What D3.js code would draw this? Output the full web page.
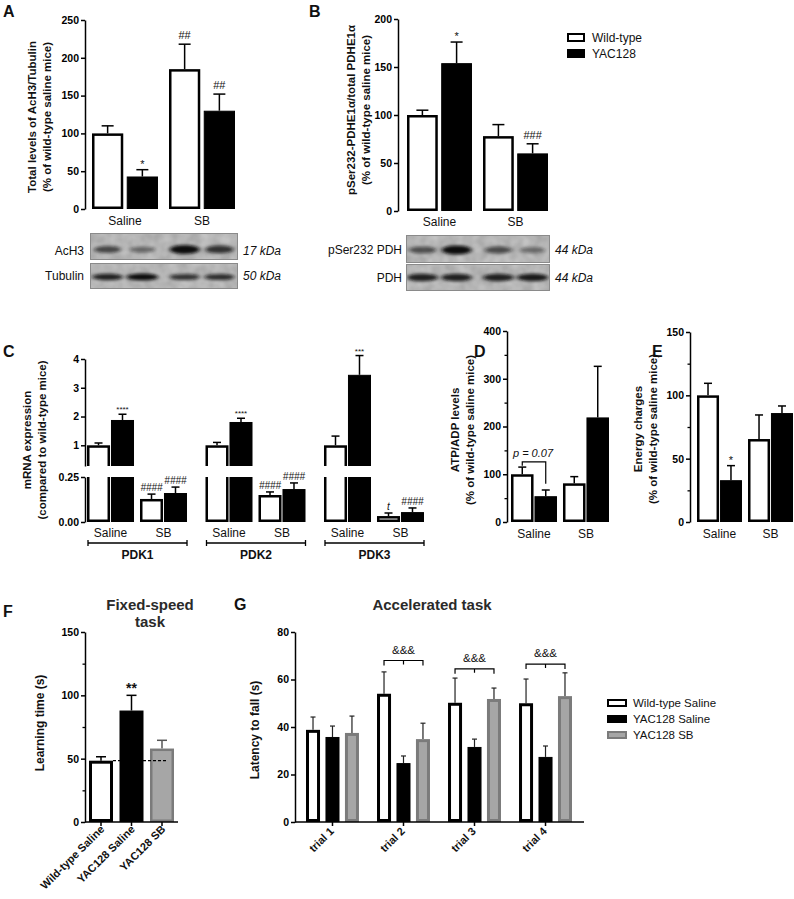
<!DOCTYPE html>
<html><head><meta charset="utf-8">
<script src="https://cdn.jsdelivr.net/npm/d3@7"></script>
<style>
body{margin:0;background:#fff;}
svg{display:block;font-family:"Liberation Sans",Arial,Helvetica,sans-serif;}
</style></head><body>
<svg id="fig" width="794" height="899"></svg>
<script>
// ================= DATA =================
const treatments = ["Saline", "SB"];
const genotypes = ["Wild-type", "YAC128"];

// Panel A : Total AcH3/Tubulin (% of WT saline)
const aWtMean = [100, 185];
const aWtSem = [10, 33];
const aYacMean = [43, 130];
const aYacSem = [9, 22];
const aWtSig = ["", "##"];
const aYacSig = ["*", "##"];
const aTicks = [0, 50, 100, 150, 200, 250];

// Panel B : pSer232-PDHE1a / total PDHE1a
const bWtMean = [100, 78];
const bWtSem = [5, 12];
const bYacMean = [154, 60];
const bYacSem = [22, 10];
const bWtSig = ["", ""];
const bYacSig = ["*", "###"];
const bTicks = [0, 50, 100, 150, 200];

// Western blot band intensities (lanes: WT sal, YAC sal, WT SB, YAC SB)
const blotAcH3 = [0.55, 0.3, 1.0, 0.7];
const blotTubulin = [0.85, 1.0, 0.7, 0.75];
const blotPSer = [0.5, 1.0, 0.5, 0.25];
const blotPDH = [0.85, 0.85, 0.85, 0.9];

// Panel C : mRNA expression
const genes = ["PDK1", "PDK2", "PDK3"];
const cWtSalMean = [1.0, 1.0, 1.0];
const cWtSalSem = [0.08, 0.1, 0.32];
const cYacSalMean = [1.88, 1.81, 3.45];
const cYacSalSem = [0.2, 0.13, 0.67];
const cWtSbMean = [0.128, 0.15, 0.033];
const cWtSbSem = [0.027, 0.017, 0.017];
const cYacSbMean = [0.161, 0.183, 0.055];
const cYacSbSem = [0.033, 0.034, 0.023];
const cYacSalSig = ["****", "****", "***"];
const cWtSbSig = ["####", "####", "t"];
const cYacSbSig = ["####", "####", "####"];
const cTicksTop = [1, 2, 3, 4];
const cTicksBot = [0, 0.25];

// Panel D : ATP/ADP
const dWtMean = [100, 81];
const dWtSem = [15, 14];
const dYacMean = [54, 219];
const dYacSem = [13, 107];
const dWtSig = ["", ""];
const dYacSig = ["", ""];
const dTicks = [0, 100, 200, 300, 400];
const dMinor = [50, 150, 250, 350];
const dPText = "p = 0.07";
const dBracket = [118, 126, 80]; // left end, bar level, right end (data units)

// Panel E : Energy charges
const eWtMean = [100, 65.5];
const eWtSem = [9.5, 19];
const eYacMean = [33, 86];
const eYacSem = [11.5, 5.6];
const eWtSig = ["", ""];
const eYacSig = ["*", ""];
const eTicks = [0, 50, 100, 150];
const eMinor = [25, 75, 125];

// Panel F : Fixed-speed task
const fGroups = ["Wild-type Saline", "YAC128 Saline", "YAC128 SB"];
const fMean = [48.4, 88, 58];
const fSem = [3.1, 12, 6.5];
const fSig = ["", "**", ""];
const fTicks = [0, 50, 100, 150];
const fMinor = [25, 75, 125];

// Panel G : Accelerated task
const trials = ["trial 1", "trial 2", "trial 3", "trial 4"];
const gSeries = ["Wild-type Saline", "YAC128 Saline", "YAC128 SB"];
const gWtMean = [38.8, 54, 50.2, 50];
const gWtSem = [5.4, 9.2, 10.4, 10.2];
const gYacSalMean = [35.8, 24.8, 31.6, 27.4];
const gYacSalSem = [4.6, 3.0, 3.3, 4.6];
const gYacSbMean = [37.5, 34.9, 51.8, 53];
const gYacSbSem = [7.1, 6.7, 4.6, 9.8];
const gBracketSig = ["", "&&&", "&&&", "&&&"];
const gBracketLevel = [null, 68, 64.5, 66.5];
const gTicks = [0, 20, 40, 60, 80];

// ================= STYLES =================
const FONT = '"Liberation Sans", Arial, Helvetica, sans-serif';
const ST_WT = {fill: "#fff", stroke: "#000", sw: 2.5};
const ST_YAC = {fill: "#000", stroke: "#000", sw: 1};
const ST_SB = {fill: "#a6a6a6", stroke: "#7b7b7b", sw: 2.5};

const svg = d3.select("#fig");
const defs = svg.append("defs");

// filters
const blur = defs.append("filter").attr("id", "bandBlur").attr("x", "-50%").attr("y", "-100%").attr("width", "200%").attr("height", "300%");
blur.append("feGaussianBlur").attr("stdDeviation", "2.2 1.6");
const noise = defs.append("filter").attr("id", "noise").attr("x", 0).attr("y", 0).attr("width", "100%").attr("height", "100%");
noise.append("feTurbulence").attr("type", "fractalNoise").attr("baseFrequency", "0.09").attr("numOctaves", 2).attr("seed", 4).attr("result", "t");
noise.append("feColorMatrix").attr("in", "t").attr("type", "matrix").attr("values", "0 0 0 0 0  0 0 0 0 0  0 0 0 0 0  0 0 0 0.35 0").attr("result", "n");
noise.append("feComposite").attr("in", "n").attr("in2", "SourceGraphic").attr("operator", "in");

// ================= HELPERS =================
function panelLetter(x, y, t) {
  svg.append("text").attr("x", x).attr("y", y).text(t)
    .attr("font-size", 16).attr("font-weight", "bold").attr("fill", "#111");
}
function yAxis(x, scale, ticks, fmt, minor) {
  const ax = svg.append("g").attr("transform", `translate(${x},0)`)
    .call(d3.axisLeft(scale).tickValues(ticks).tickSize(4).tickSizeOuter(0).tickPadding(2)
      .tickFormat(fmt || d3.format("d")));
  ax.attr("font-family", FONT).attr("font-size", 10.5).attr("font-weight", "bold");
  ax.select(".domain").attr("stroke", "#000").attr("stroke-width", 1.5);
  ax.selectAll(".tick line").attr("stroke", "#000").attr("stroke-width", 1.5);
  ax.selectAll(".tick text").attr("fill", "#000");
  if (minor) {
    const mx = svg.append("g").attr("transform", `translate(${x},0)`)
      .call(d3.axisLeft(scale).tickValues(minor).tickSize(2.5).tickSizeOuter(0).tickFormat(""));
    mx.select(".domain").remove();
    mx.selectAll(".tick line").attr("stroke", "#000").attr("stroke-width", 1.3);
  }
  return ax;
}
function yLabel(xs, y, lines, size) {
  lines.forEach((l, i) => {
    svg.append("text").attr("transform", `translate(${xs[i]},${y}) rotate(-90)`)
      .attr("text-anchor", "middle").attr("dy", "0.35em")
      .attr("font-size", size || 11.5).attr("font-weight", "bold").attr("fill", "#111").text(l);
  });
}
function drawBar(g, x, w, y0, yT, st, clip) {
  const sw = st.sw;
  const r = g.append("rect")
    .attr("x", x + sw / 2).attr("y", yT + sw / 2)
    .attr("width", Math.max(0, w - sw)).attr("height", Math.max(0, y0 - yT - sw))
    .attr("fill", st.fill).attr("stroke", st.stroke).attr("stroke-width", sw);
  if (clip) r.attr("clip-path", `url(#${clip})`);
}
function drawErr(g, cx, yM, yE, cap, sw, color) {
  const c = color || "#000";
  g.append("line").attr("x1", cx).attr("x2", cx).attr("y1", yM).attr("y2", yE)
    .attr("stroke", c).attr("stroke-width", sw);
  g.append("line").attr("x1", cx - cap / 2).attr("x2", cx + cap / 2).attr("y1", yE).attr("y2", yE)
    .attr("stroke", c).attr("stroke-width", sw);
}
function sigText(g, cx, yE, txt, size, opts) {
  if (!txt) return;
  opts = opts || {};
  const star = txt.indexOf("*") >= 0;
  g.append("text").attr("x", cx).attr("y", yE - (star ? (opts.starOff || 1) : (opts.off || 4)))
    .attr("text-anchor", "middle").attr("font-size", size)
    .attr("font-weight", opts.bold ? "bold" : "normal")
    .attr("font-style", opts.italic ? "italic" : "normal")
    .attr("fill", "#111").text(txt);
}

// Generic two-treatment x two-genotype panel
function pairPanel(cfg) {
  const g = svg.append("g");
  const x0 = d3.scaleBand().domain(treatments).range(cfg.xRange).paddingInner(cfg.inner);
  const x1 = d3.scaleBand().domain(genotypes).range([0, x0.bandwidth()]).paddingInner(cfg.barPad);
  const y = cfg.y;
  const y0 = y(0);
  const series = [
    {st: ST_WT, mean: cfg.wtMean, sem: cfg.wtSem, sig: cfg.wtSig, gt: genotypes[0]},
    {st: ST_YAC, mean: cfg.yacMean, sem: cfg.yacSem, sig: cfg.yacSig, gt: genotypes[1]}
  ];
  treatments.forEach((t, i) => {
    series.forEach(s => {
      const bx = x0(t) + x1(s.gt), bw = x1.bandwidth(), cx = bx + bw / 2;
      drawErr(g, cx, y(s.mean[i]), y(s.mean[i] + s.sem[i]), cfg.cap, 1.5);
      drawBar(g, bx, bw, y0, y(s.mean[i]), s.st);
      sigText(g, cx, y(s.mean[i] + s.sem[i]) - 1, s.sig[i], cfg.sigSize || 11);
    });
    g.append("text").attr("x", x0(t) + x0.bandwidth() / 2).attr("y", cfg.catY)
      .attr("text-anchor", "middle").attr("font-size", 12).attr("fill", "#111").text(t);
  });
  yAxis(cfg.axisX, y, cfg.ticks, null, cfg.minor);
  return {g, x0, x1};
}

function blot(box, rowY, rowH, centers, intens, bandW, bandH, bandDy, clipId) {
  defs.append("clipPath").attr("id", clipId).append("rect")
    .attr("x", box[0]).attr("y", rowY).attr("width", box[1] - box[0]).attr("height", rowH);
  svg.append("rect").attr("x", box[0]).attr("y", rowY).attr("width", box[1] - box[0]).attr("height", rowH)
    .attr("fill", "#cbcbcb");
  svg.append("rect").attr("x", box[0]).attr("y", rowY).attr("width", box[1] - box[0]).attr("height", rowH)
    .attr("fill", "#000").attr("filter", "url(#noise)").attr("opacity", 0.6);
  const gb = svg.append("g").attr("clip-path", `url(#${clipId})`);
  centers.forEach((c, i) => {
    const v = intens[i];
    gb.append("ellipse").attr("cx", c).attr("cy", rowY + rowH / 2 + bandDy)
      .attr("rx", bandW / 2 * (0.8 + 0.2 * v)).attr("ry", bandH / 2 * (0.55 + 0.45 * v))
      .attr("fill", "#0d0d0d").attr("opacity", 0.25 + 0.75 * v).attr("filter", "url(#bandBlur)");
  });
  svg.append("rect").attr("x", box[0] + 0.5).attr("y", rowY + 0.5).attr("width", box[1] - box[0] - 1).attr("height", rowH - 1)
    .attr("fill", "none").attr("stroke", "#8a8a8a").attr("stroke-width", 1);
}

// ================= PANEL A =================
panelLetter(3, 17, "A");
const yA = d3.scaleLinear().domain([0, 250]).range([209, 20]);
const pA = pairPanel({axisX: 85, y: yA, ticks: aTicks, xRange: [92, 235], inner: 0.143, barPad: 0.1,
  wtMean: aWtMean, wtSem: aWtSem, wtSig: aWtSig, yacMean: aYacMean, yacSem: aYacSem, yacSig: aYacSig,
  cap: 12, catY: 225});
yLabel([32, 47], 117, ["Total levels of AcH3/Tubulin", "(% of wild-type saline mice)"]);
{
  const centers = [];
  treatments.forEach(t => genotypes.forEach(gt => centers.push(pA.x0(t) + pA.x1(gt) + pA.x1.bandwidth() / 2)));
  blot([90, 238], 233, 27, centers, blotAcH3, 30, 9, 3, "clipA1");
  blot([90, 238], 263, 26, centers, blotTubulin, 32, 7, 1, "clipA2");
  svg.append("text").attr("x", 84).attr("y", 255).attr("text-anchor", "end").attr("font-size", 12).attr("fill", "#111").text("AcH3");
  svg.append("text").attr("x", 84).attr("y", 280).attr("text-anchor", "end").attr("font-size", 12).attr("fill", "#111").text("Tubulin");
  svg.append("text").attr("x", 243).attr("y", 255).attr("font-size", 12).attr("font-style", "italic").attr("fill", "#111").text("17 kDa");
  svg.append("text").attr("x", 243).attr("y", 280).attr("font-size", 12).attr("font-style", "italic").attr("fill", "#111").text("50 kDa");
}

// ================= PANEL B =================
panelLetter(309, 17, "B");
const yB = d3.scaleLinear().domain([0, 200]).range([211, 19]);
const pB = pairPanel({axisX: 398, y: yB, ticks: bTicks, xRange: [407, 548], inner: 0.145, barPad: 0.1,
  wtMean: bWtMean, wtSem: bWtSem, wtSig: bWtSig, yacMean: bYacMean, yacSem: bYacSem, yacSig: bYacSig,
  cap: 12, catY: 226});
yLabel([351, 366], 110, ["pSer232-PDHE1\u03b1/total PDHE1\u03b1", "(% of wild-type saline mice)"]);
{
  const centers = [];
  treatments.forEach(t => genotypes.forEach(gt => centers.push(pB.x0(t) + pB.x1(gt) + pB.x1.bandwidth() / 2)));
  blot([406, 550], 235, 28, centers, blotPSer, 30, 9, 1, "clipB1");
  blot([406, 550], 264, 27, centers, blotPDH, 32, 8, 0, "clipB2");
  svg.append("text").attr("x", 402).attr("y", 254).attr("text-anchor", "end").attr("font-size", 12).attr("fill", "#111").text("pSer232 PDH");
  svg.append("text").attr("x", 402).attr("y", 282).attr("text-anchor", "end").attr("font-size", 12).attr("fill", "#111").text("PDH");
  svg.append("text").attr("x", 555).attr("y", 254).attr("font-size", 12).attr("font-style", "italic").attr("fill", "#111").text("44 kDa");
  svg.append("text").attr("x", 555).attr("y", 282).attr("font-size", 12).attr("font-style", "italic").attr("fill", "#111").text("44 kDa");
}
// legend B
[ST_WT, ST_YAC].forEach((st, i) => {
  const yy = 33 + i * 16;
  svg.append("rect").attr("x", 567 + 1).attr("y", yy + 1).attr("width", 16).attr("height", 7)
    .attr("fill", st.fill).attr("stroke", "#000").attr("stroke-width", 2);
  svg.append("text").attr("x", 592).attr("y", yy + 9).attr("font-size", 12).attr("fill", "#111").text(genotypes[i]);
});

// ================= PANEL C =================
panelLetter(3, 357, "C");
const yCTop = d3.scaleLinear().domain([0.28, 4]).range([466, 359]);
const yCBot = d3.scaleLinear().domain([0, 0.25]).range([522, 477]);
defs.append("clipPath").attr("id", "cTop").append("rect").attr("x", 80).attr("y", 340).attr("width", 360).attr("height", 126);
defs.append("clipPath").attr("id", "cBot").append("rect").attr("x", 80).attr("y", 477).attr("width", 360).attr("height", 50);
{
  const g = svg.append("g");
  const xg = d3.scaleBand().domain(genes).range([87, 424]).paddingInner(0.156);
  const xt = d3.scaleBand().domain(treatments).range([0, xg.bandwidth()]).paddingInner(0.113);
  const xb = d3.scaleBand().domain(genotypes).range([0, xt.bandwidth()]).paddingInner(0.04);
  const cSeries = [
    {t: "Saline", gt: "Wild-type", st: ST_WT, mean: cWtSalMean, sem: cWtSalSem, sig: null},
    {t: "Saline", gt: "YAC128", st: ST_YAC, mean: cYacSalMean, sem: cYacSalSem, sig: cYacSalSig},
    {t: "SB", gt: "Wild-type", st: ST_WT, mean: cWtSbMean, sem: cWtSbSem, sig: cWtSbSig},
    {t: "SB", gt: "YAC128", st: ST_YAC, mean: cYacSbMean, sem: cYacSbSem, sig: cYacSbSig}
  ];
  genes.forEach((gn, i) => {
    cSeries.forEach(s => {
      const bx = xg(gn) + xt(s.t) + xb(s.gt), bw = xb.bandwidth(), cx = bx + bw / 2;
      const m = s.mean[i], e = m + s.sem[i];
      let yE;
      if (m > 0.25) {
        drawErr(g, cx, yCTop(m), yCTop(e), 8, 1.5);
        yE = yCTop(e);
        drawBar(g, bx, bw, 478, yCTop(m), s.st, "cTop");
        drawBar(g, bx, bw, 522, 466, s.st, "cBot");
      } else {
        drawErr(g, cx, yCBot(m), yCBot(e), 8, 1.5);
        yE = yCBot(e);
        drawBar(g, bx, bw, 522, yCBot(m), s.st);
      }
      if (s.sig) {
        const txt = s.sig[i];
        if (txt.indexOf("*") >= 0) sigText(g, cx, yE - 1, txt, 8, {starOff: 0});
        else sigText(g, cx, yE, txt, 10, {off: 3, italic: true});
      }
    });
    treatments.forEach(t => {
      g.append("text").attr("x", xg(gn) + xt(t) + xt.bandwidth() / 2).attr("y", 537)
        .attr("text-anchor", "middle").attr("font-size", 12).attr("fill", "#111").text(t);
    });
    const bxL = xg(gn) + 1, bxR = xg(gn) + xg.bandwidth();
    g.append("path").attr("d", `M${bxL},${540}V${546}M${bxL},${543}H${bxR}M${bxR},${540}V${546}`)
      .attr("stroke", "#000").attr("stroke-width", 1.3).attr("fill", "none");
    g.append("text").attr("x", (bxL + bxR) / 2).attr("y", 559).attr("text-anchor", "middle")
      .attr("font-size", 12).attr("font-weight", "bold").attr("fill", "#111").text(gn);
  });
  yAxis(85, yCTop, cTicksTop, d3.format("d"));
  yAxis(85, yCBot, cTicksBot, d3.format(".2f"));
}
yLabel([27, 42], 440, ["mRNA expression", "(compared to wild-type mice)"]);

// ================= PANEL D =================
panelLetter(474, 357, "D");
const yD = d3.scaleLinear().domain([0, 400]).range([522, 331]);
const pD = pairPanel({axisX: 507, y: yD, ticks: dTicks, minor: dMinor, xRange: [511, 609], inner: 0.115, barPad: 0.04,
  wtMean: dWtMean, wtSem: dWtSem, wtSig: dWtSig, yacMean: dYacMean, yacSem: dYacSem, yacSig: dYacSig,
  cap: 8, catY: 538});
{
  const cxW = pD.x0("Saline") + pD.x1("Wild-type") + pD.x1.bandwidth() / 2;
  const cxY = pD.x0("Saline") + pD.x1("YAC128") + pD.x1.bandwidth() / 2;
  svg.append("path").attr("d", `M${cxW},${yD(dBracket[0])}V${yD(dBracket[1])}H${cxY}V${yD(dBracket[2])}`)
    .attr("fill", "none").attr("stroke", "#000").attr("stroke-width", 1.2);
  svg.append("text").attr("x", (cxW + cxY) / 2 - 1).attr("y", yD(dBracket[1]) - 5).attr("text-anchor", "middle")
    .attr("font-size", 11).attr("font-style", "italic").attr("fill", "#111").text(dPText);
}
yLabel([455, 470], 430, ["ATP/ADP levels", "(% of wild-type saline mice)"]);

// ================= PANEL E =================
panelLetter(652, 357, "E");
const yE = d3.scaleLinear().domain([0, 150]).range([522, 332]);
pairPanel({axisX: 690, y: yE, ticks: eTicks, minor: eMinor, xRange: [697, 793], inner: 0.118, barPad: 0.04,
  wtMean: eWtMean, wtSem: eWtSem, wtSig: eWtSig, yacMean: eYacMean, yacSem: eYacSem, yacSig: eYacSig,
  cap: 8, catY: 538});
yLabel([638, 653], 429, ["Energy charges", "(% of wild-type saline mice)"]);

// ================= PANEL F =================
panelLetter(3, 617, "F");
svg.append("text").attr("x", 150).attr("y", 610).attr("text-anchor", "middle").attr("font-size", 15)
  .attr("font-weight", "bold").attr("fill", "#2a2a2a").text("Fixed-speed");
svg.append("text").attr("x", 150).attr("y", 627).attr("text-anchor", "middle").attr("font-size", 15)
  .attr("font-weight", "bold").attr("fill", "#2a2a2a").text("task");
{
  const g = svg.append("g");
  const yF = d3.scaleLinear().domain([0, 150]).range([822, 632]);
  const xF = d3.scaleBand().domain(fGroups).range([89, 174]).paddingInner(0.213);
  const fStyles = [ST_WT, ST_YAC, ST_SB];
  const fErrC = ["#000", "#000", "#555"];
  fGroups.forEach((gr, i) => {
    const bx = xF(gr), bw = xF.bandwidth(), cx = bx + bw / 2;
    drawErr(g, cx, yF(fMean[i]), yF(fMean[i] + fSem[i]), 10, 1.5, fErrC[i]);
    drawBar(g, bx, bw, 822, yF(fMean[i]), Object.assign({}, fStyles[i], i === 0 ? {sw: 3} : {}));
    if (fSig[i]) g.append("text").attr("x", cx).attr("y", yF(fMean[i] + fSem[i]) - 2)
      .attr("text-anchor", "middle").attr("font-size", 14).attr("font-weight", "bold").attr("fill", "#111").text(fSig[i]);
    g.append("line").attr("x1", cx).attr("x2", cx).attr("y1", 822).attr("y2", 826).attr("stroke", "#000").attr("stroke-width", 1.5);
    g.append("text").attr("transform", `translate(${cx + 4},${830}) rotate(-45)`).attr("text-anchor", "end")
      .attr("font-size", 11).attr("font-weight", "bold").attr("fill", "#111").text(gr);
  });
  // dashed reference line at WT level
  g.append("line").attr("x1", xF(fGroups[0]) + xF.bandwidth()).attr("x2", 168)
    .attr("y1", yF(fMean[0])).attr("y2", yF(fMean[0]))
    .attr("stroke", "#000").attr("stroke-width", 1.2).attr("stroke-dasharray", "3,2");
  g.append("line").attr("x1", 85).attr("x2", 178).attr("y1", 822).attr("y2", 822).attr("stroke", "#000").attr("stroke-width", 1.5);
  yAxis(85, yF, fTicks, null, fMinor);
}
yLabel([40], 723, ["Learning time (s)"], 12);

// ================= PANEL G =================
panelLetter(234, 610, "G");
svg.append("text").attr("x", 432).attr("y", 610).attr("text-anchor", "middle").attr("font-size", 15)
  .attr("font-weight", "bold").attr("fill", "#2a2a2a").text("Accelerated task");
{
  const g = svg.append("g");
  const yG = d3.scaleLinear().domain([0, 80]).range([822, 632]);
  const xG = d3.scaleBand().domain(trials).range([306, 572]).paddingInner(0.254);
  const xS = d3.scaleBand().domain(gSeries).range([0, xG.bandwidth()]).paddingInner(0.28);
  const gData = [
    {s: gSeries[0], st: ST_WT, mean: gWtMean, sem: gWtSem},
    {s: gSeries[1], st: ST_YAC, mean: gYacSalMean, sem: gYacSalSem},
    {s: gSeries[2], st: ST_SB, mean: gYacSbMean, sem: gYacSbSem}
  ];
  trials.forEach((tr, i) => {
    gData.forEach(d => {
      const bx = xG(tr) + xS(d.s), bw = xS.bandwidth(), cx = bx + bw / 2;
      drawErr(g, cx, yG(d.mean[i]), yG(d.mean[i] + d.sem[i]), 5, 1.2, "#222");
      drawBar(g, bx, bw, 822, yG(d.mean[i]), Object.assign({}, d.st, d.st === ST_YAC ? {} : {sw: 3}));
    });
    const cx = xG(tr) + xG.bandwidth() / 2;
    g.append("line").attr("x1", cx).attr("x2", cx).attr("y1", 822).attr("y2", 826).attr("stroke", "#000").attr("stroke-width", 1.5);
    g.append("text").attr("transform", `translate(${cx + 2},${832}) rotate(-45)`).attr("text-anchor", "end")
      .attr("font-size", 11).attr("font-weight", "bold").attr("fill", "#111").text(tr);
    if (gBracketSig[i]) {
      const xa = xG(tr) + xS(gSeries[0]) + xS.bandwidth() / 2;
      const xb = xG(tr) + xS(gSeries[2]) + xS.bandwidth() / 2;
      const xm = (xa + xb) / 2, yb = yG(gBracketLevel[i]);
      g.append("path").attr("d", `M${xa},${yb + 5}V${yb}H${xb}V${yb + 5}M${xm},${yb}V${yb + 4}`)
        .attr("fill", "none").attr("stroke", "#000").attr("stroke-width", 1.2);
      g.append("text").attr("x", xm).attr("y", yb - 7).attr("text-anchor", "middle")
        .attr("font-size", 11.5).attr("fill", "#111").text(gBracketSig[i]);
    }
  });
  g.append("line").attr("x1", 295).attr("x2", 584).attr("y1", 822).attr("y2", 822).attr("stroke", "#000").attr("stroke-width", 1.5);
  yAxis(295, yG, gTicks, null);
  // legend
  gData.forEach((d, i) => {
    const yy = 699 + i * 16;
    const sw = d.st === ST_YAC ? 1 : 2;
    svg.append("rect").attr("x", 607 + sw / 2).attr("y", yy + sw / 2).attr("width", 20 - sw).attr("height", 8 - sw)
      .attr("fill", d.st.fill).attr("stroke", d.st.stroke).attr("stroke-width", sw);
    svg.append("text").attr("x", 633).attr("y", yy + 8).attr("font-size", 11.5).attr("fill", "#111").text(d.s);
  });
}
yLabel([255], 730, ["Latency to fall (s)"], 12);
</script>
</body></html>
